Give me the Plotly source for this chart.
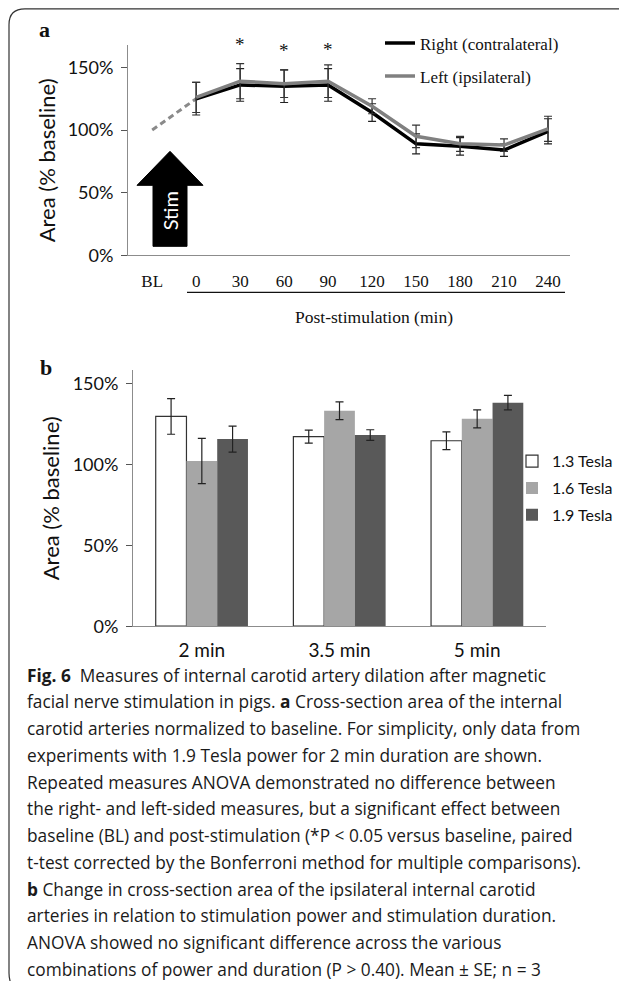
import plotly.graph_objects as go

# ---------------- data ----------------
time_labels = ["BL", "0", "30", "60", "90", "120", "150", "180", "210", "240"]
right_vals = [100, 125, 136, 135, 136, 114, 89, 87, 84, 99]
left_vals = [100, 126, 139, 137, 139, 119, 95, 89, 88, 101]
right_err = [0, 13, 13, 13, 13, 7, 8, 7, 5, 10]
left_err = [0, 12, 14, 11, 13, 6, 9, 6, 5, 10]
star_labels = ["30", "60", "90"]

durations = ["2 min", "3.5 min", "5 min"]
t13_vals = [129.5, 117, 114.5]
t13_err = [11, 4, 5.5]
t16_vals = [102, 133, 128]
t16_err = [14, 5.5, 5.5]
t19_vals = [115.5, 118, 138]
t19_err = [8, 3.3, 4.5]

y_ticks = [0, 50, 100, 150]
y_ticktext = ["0%", "50%", "100%", "150%"]

caption_lines = [
    "<b>Fig. 6</b>  Measures of internal carotid artery dilation after magnetic",
    "facial nerve stimulation in pigs. <b>a</b> Cross-section area of the internal",
    "carotid arteries normalized to baseline. For simplicity, only data from",
    "experiments with 1.9 Tesla power for 2 min duration are shown.",
    "Repeated measures ANOVA demonstrated no difference between",
    "the right- and left-sided measures, but a significant effect between",
    "baseline (BL) and post-stimulation (*P &lt; 0.05 versus baseline, paired",
    "t-test corrected by the Bonferroni method for multiple comparisons).",
    "<b>b</b> Change in cross-section area of the ipsilateral internal carotid",
    "arteries in relation to stimulation power and stimulation duration.",
    "ANOVA showed no significant difference across the various",
    "combinations of power and duration (P &gt; 0.40). Mean ± SE; n = 3",
]

# the page has an 8px body margin, so the figure is drawn 8px in from the edge
OFF = 8
W, H = 611, 973


def X(px):
    return (px - OFF) / W


def Y(py):
    t = (py - 1.7) / 0.990
    return 1 - (t - OFF) / H


SERIF = "Liberation Serif"
SANS = "Lato"
CAP = "Open Sans"

fig = go.Figure()

# ---------------- panel a ----------------
fig.add_trace(go.Scatter(
    x=time_labels[:2], y=right_vals[:2], mode="lines",
    line=dict(color="#8a8a8a", width=3, dash="6px,4px"),
    showlegend=False, hoverinfo="skip", xaxis="x", yaxis="y"))
fig.add_trace(go.Scatter(
    x=time_labels[1:], y=right_vals[1:], mode="lines",
    name="Right (contralateral)", legendgroup="r", legend="legend",
    line=dict(color="#000000", width=3.5),
    error_y=dict(type="data", array=right_err[1:], visible=True,
                 color="#222222", thickness=1.2, width=4),
    xaxis="x", yaxis="y"))
fig.add_trace(go.Scatter(
    x=time_labels[1:], y=left_vals[1:], mode="lines",
    name="Left (ipsilateral)", legendgroup="l", legend="legend",
    line=dict(color="#808080", width=3.5),
    error_y=dict(type="data", array=left_err[1:], visible=True,
                 color="#333333", thickness=1.2, width=4),
    xaxis="x", yaxis="y"))

# ---------------- panel b ----------------
fig.add_trace(go.Bar(
    x=durations, y=t13_vals, name="1.3 Tesla", legend="legend2",
    legendgroup="a13",
    marker=dict(color="#ffffff", line=dict(color="#333333", width=1.2)),
    error_y=dict(type="data", array=t13_err, visible=True, color="#222222",
                 thickness=1.2, width=4),
    xaxis="x2", yaxis="y2"))
fig.add_trace(go.Bar(
    x=durations, y=t16_vals, name="1.6 Tesla", legend="legend2",
    legendgroup="a16",
    marker=dict(color="#a6a6a6", line=dict(width=0)),
    error_y=dict(type="data", array=t16_err, visible=True, color="#222222",
                 thickness=1.2, width=4),
    xaxis="x2", yaxis="y2"))
fig.add_trace(go.Bar(
    x=durations, y=t19_vals, name="1.9 Tesla", legend="legend2",
    legendgroup="a19",
    marker=dict(color="#595959", line=dict(width=0)),
    error_y=dict(type="data", array=t19_err, visible=True, color="#222222",
                 thickness=1.2, width=4),
    xaxis="x2", yaxis="y2"))

axis_line = "#8c8c8c"
fig.update_layout(
    width=W, height=H,
    margin=dict(l=0, r=0, t=0, b=0),
    paper_bgcolor="white", plot_bgcolor="white",
    barmode="group", bargap=0.33, bargroupgap=0,
    xaxis=dict(domain=[X(128), X(570)], anchor="y", type="category",
               categoryorder="array", categoryarray=time_labels,
               range=[-0.55, 9.5], showline=True, linecolor=axis_line,
               linewidth=1, ticks="", showgrid=False, zeroline=False,
               tickfont=dict(family=SERIF, size=17, color="#111"),
               ticklabelstandoff=10),
    yaxis=dict(domain=[Y(257), Y(47)], anchor="x", range=[0, 167.6],
               tickvals=y_ticks, ticktext=y_ticktext, ticks="outside",
               ticklen=6, tickcolor="#555", showline=True,
               linecolor=axis_line, linewidth=1, showgrid=False,
               zeroline=False, ticklabelstandoff=4,
               tickfont=dict(family=SANS, size=18, color="#111")),
    xaxis2=dict(domain=[X(133), X(546)], anchor="y2", type="category",
                range=[-0.5, 2.5], showline=True, linecolor=axis_line,
                linewidth=1, ticks="", showgrid=False, zeroline=False,
                tickfont=dict(family=SANS, size=19, color="#111"),
                ticklabelstandoff=7),
    yaxis2=dict(domain=[Y(628), Y(372)], anchor="x2", range=[0, 158],
                tickvals=y_ticks, ticktext=y_ticktext, ticks="outside",
                ticklen=6, tickcolor="#555", showline=True,
                linecolor=axis_line, linewidth=1, showgrid=False,
                zeroline=False, ticklabelstandoff=4,
                tickfont=dict(family=SANS, size=18, color="#111")),
    legend=dict(x=X(380), y=Y(27), xanchor="left", yanchor="top",
                font=dict(family=SERIF, size=17, color="#111"),
                bgcolor="rgba(0,0,0,0)", tracegroupgap=8,
                itemwidth=30),
    legend2=dict(x=X(512), y=Y(446), xanchor="left", yanchor="top",
                 font=dict(family=SANS, size=16, color="#111"),
                 bgcolor="rgba(0,0,0,0)", tracegroupgap=3,
                 itemwidth=30),
)

annotations = []


def ann(px, py, text, size, family, color="#111", angle=0, **kw):
    annotations.append(dict(x=X(px), y=Y(py), xref="paper", yref="paper",
                            xanchor="center", yanchor="middle",
                            text=text, textangle=angle, showarrow=False,
                            font=dict(family=family, size=size, color=color),
                            **kw))


# panel letters
ann(44, 31, "<b>a</b>", 22, SERIF)
ann(46, 369, "<b>b</b>", 22, SERIF)
# y titles
ann(46, 162, "Area (% baseline)", 22, SANS, angle=-90)
ann(50, 500, "Area (% baseline)", 22, SANS, angle=-90)
# x title panel a
ann(374, 319, "Post-stimulation (min)", 17.5, SERIF)
# Stim text
ann(170, 213, "Stim", 20, SANS, color="white", angle=-90)
# significance stars (x from the category axis)
for lab, py in zip(star_labels, [46, 52, 51]):
    annotations.append(dict(x=time_labels.index(lab), y=Y(py), xref="x",
                            yref="paper", xanchor="center", yanchor="middle",
                            text="*", showarrow=False,
                            font=dict(family=SERIF, size=19, color="#111")))
# caption
y0, dy = 677, 26.75
for i, line in enumerate(caption_lines):
    annotations.append(dict(x=X(25), y=Y(y0 + i * dy), xref="paper",
                            yref="paper", xanchor="left", yanchor="middle",
                            text=line, showarrow=False,
                            font=dict(family=CAP, size=17.3, color="#1a1a1a")))
fig.update_layout(annotations=annotations)

shapes = []
# Stim arrow
arrow = [(153, 248), (153, 187), (137, 187), (170, 153), (203, 187),
         (187, 187), (187, 248)]
path = "M " + " L ".join(f"{X(a)},{Y(b)}" for a, b in arrow) + " Z"
shapes.append(dict(type="path", xref="paper", yref="paper", path=path,
                   fillcolor="black", line=dict(color="black", width=1),
                   layer="below"))
# underline below x labels
shapes.append(dict(type="line", xref="paper", yref="paper",
                   x0=X(187), x1=X(565), y0=Y(294), y1=Y(294),
                   line=dict(color="#111", width=1.2)))
# frame (top edge kept just inside the figure)
ytop = 1 - 0.8 / H
fpts = f"M {X(26)},{Y(1000)} Q {X(9)},{Y(992)} {X(9)},{Y(975)} " \
       f"L {X(9)},{ytop - 16 / H} Q {X(9)},{ytop} {X(25)},{ytop} " \
       f"L {X(618)},{ytop} Q {X(626)},{ytop} {X(628)},{ytop - 6 / H}"
shapes.append(dict(type="path", xref="paper", yref="paper", path=fpts,
                   line=dict(color="#333", width=1.2)))
fig.update_layout(shapes=shapes)

fig.write_html("out.html")
